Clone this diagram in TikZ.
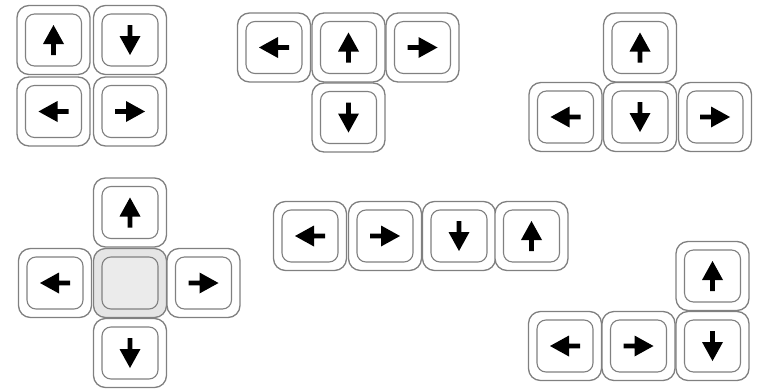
\documentclass[tikz,border=0pt]{standalone}
\begin{document}
\begin{tikzpicture}[x=1pt,y=-1pt,
  keyout/.style={draw=black!50,line width=1.3pt,rounded corners=12pt,minimum width=73pt,minimum height=69pt,inner sep=0pt,fill=white},
  keyin/.style={draw=black!50,line width=1.1pt,rounded corners=9pt,minimum width=56pt,minimum height=52pt,inner sep=0pt},
  keymid/.style={keyout,fill=black!10},
  keymidin/.style={keyin,fill=black!8},
  arr/.pic={\fill[black] (-15,-2.4) -- (-4,-2.4) -- (-4,-10.5) -- (15,0) -- (-4,10.5) -- (-4,2.4) -- (-15,2.4) -- cycle;}
]
\useasboundingbox (0,0) rectangle (765,391);
\newcommand\keyA[4]{%
  \node[keyout] (#1) at (#2,#3) {};
  \node[keyin] (#1-in) at (#1) {};
  \pic[rotate=#4] at (#1) {arr};}
% group 1
\keyA{a1}{53.5}{40}{90}
\keyA{a2}{130}{40}{270}
\keyA{a3}{53.5}{111.5}{180}
\keyA{a4}{130}{111.5}{0}
% group 2
\keyA{b1}{274}{47.5}{180}
\keyA{b2}{348.5}{47.5}{90}
\keyA{b3}{422.5}{47.5}{0}
\keyA{b4}{348.5}{117.5}{270}
% group 3
\keyA{c1}{640}{47.5}{90}
\keyA{c2}{565.5}{117}{180}
\keyA{c3}{640}{117}{270}
\keyA{c4}{715}{117}{0}
% group 4
\keyA{d1}{130}{212.5}{90}
\keyA{d2}{55}{283}{180}
\node[keymid] (d3) at (130,283) {};
\node[keymidin] (d3-in) at (d3) {};
\keyA{d4}{203.5}{283}{0}
\keyA{d5}{130}{353}{270}
% group 5
\keyA{e1}{310}{236}{180}
\keyA{e2}{385}{236}{0}
\keyA{e3}{459}{236}{270}
\keyA{e4}{531.5}{236}{90}
% group 6
\keyA{f1}{712.5}{276}{90}
\keyA{f2}{565}{346}{180}
\keyA{f3}{638.5}{346}{0}
\keyA{f4}{712.5}{346}{270}
\end{tikzpicture}
\end{document}
